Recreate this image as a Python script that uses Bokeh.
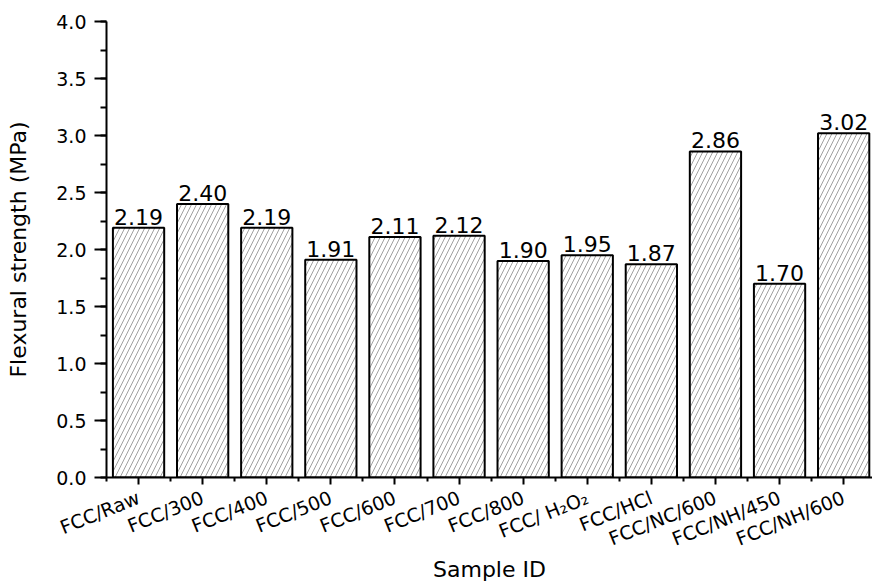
import math
from bokeh.plotting import figure
from bokeh.models import (ColumnDataSource, FixedTicker, SingleIntervalTicker, Range1d,
                          LabelSet, NumeralTickFormatter)
from bokeh.core.properties import value
from bokeh.embed import file_html
from bokeh.resources import INLINE

samples = ["FCC/Raw", "FCC/300", "FCC/400", "FCC/500", "FCC/600", "FCC/700",
           "FCC/800", "FCC/ H\u2082O\u2082", "FCC/HCl", "FCC/NC/600", "FCC/NH/450", "FCC/NH/600"]
strength = [2.19, 2.40, 2.19, 1.91, 2.11, 2.12, 1.90, 1.95, 1.87, 2.86, 1.70, 3.02]
value_labels = ["2.19", "2.40", "2.19", "1.91", "2.11", "2.12", "1.90", "1.95", "1.87", "2.86", "1.70", "3.02"]

xs = list(range(len(samples)))
src = ColumnDataSource(dict(x=xs, top=strength, lab=value_labels))

FONT = "DejaVu Sans"

p = figure(width=872, height=585, output_backend="svg", toolbar_location=None,
           x_range=Range1d(-0.5, len(samples) - 0.55), y_range=Range1d(0, 4.0),
           min_border_left=106, min_border_right=0, min_border_top=21, min_border_bottom=108)

p.vbar(x="x", top="top", width=0.8, bottom=0, source=src,
       fill_color="white", line_color="black", line_width=2,
       hatch_pattern="/", hatch_scale=10, hatch_weight=0.7, hatch_color="#777777")

labels = LabelSet(x="x", y="top", text="lab", source=src, text_align="center",
                  text_baseline="bottom", y_offset=3, text_font=value(FONT),
                  text_font_size="22px", text_color="black")
p.add_layout(labels)

p.grid.visible = False
p.outline_line_color = None
p.background_fill_color = "white"
p.border_fill_color = "white"

xa = p.xaxis[0]
xa.ticker = FixedTicker(ticks=xs, minor_ticks=[i - 0.5 for i in range(len(samples) + 1)])
xa.major_label_overrides = {i: s for i, s in enumerate(samples)}
xa.major_label_orientation = math.radians(22)
xa.axis_label = "Sample ID"

ya = p.yaxis[0]
ya.ticker = SingleIntervalTicker(interval=0.5, num_minor_ticks=2)
ya.axis_label = "Flexural strength (MPa)"
ya.formatter = NumeralTickFormatter(format="0.0")

for ax in (xa, ya):
    ax.axis_line_width = 2
    ax.axis_line_color = "black"
    ax.major_tick_line_width = 2
    ax.minor_tick_line_width = 2
    ax.major_tick_in = 0
    ax.minor_tick_in = 0
    ax.major_label_text_font = FONT
    ax.major_label_text_color = "black"
    ax.axis_label_text_font = FONT
    ax.axis_label_text_font_style = "normal"
    ax.axis_label_text_color = "black"

xa.major_tick_out = 7
xa.minor_tick_out = 4
ya.major_tick_out = 12
ya.minor_tick_out = 6

ya.major_label_text_font_size = "19px"
xa.major_label_text_font_size = "19px"
ya.major_label_standoff = 8
xa.major_label_standoff = 12

xa.axis_label_text_font_size = "22px"
ya.axis_label_text_font_size = "22px"
xa.axis_label_standoff = -6
ya.axis_label_standoff = 22

open("out.html", "w").write(file_html(p, INLINE))
